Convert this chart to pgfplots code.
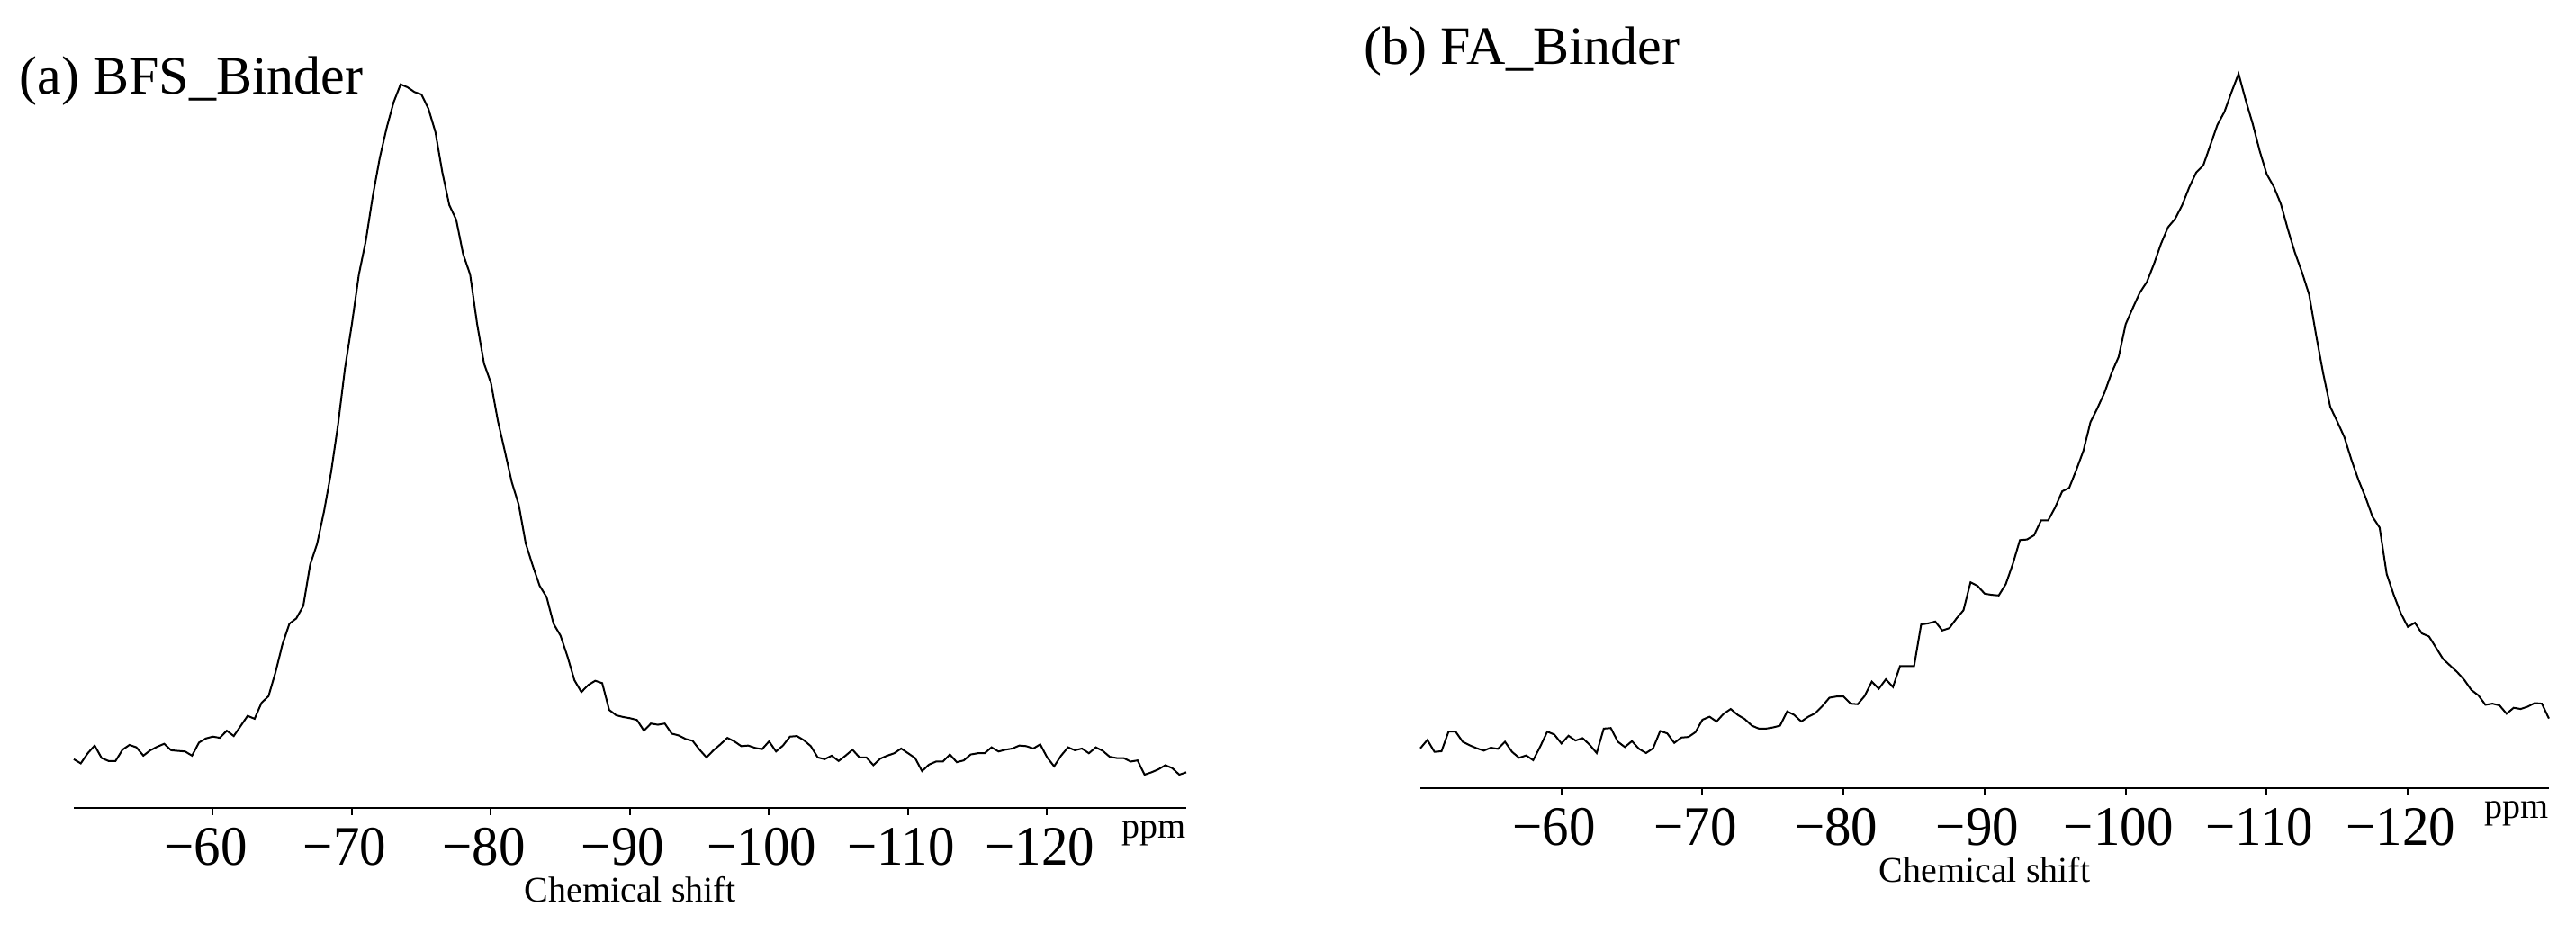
\documentclass[border=0pt]{standalone}
\usepackage{pgfplots}
\pgfplotsset{compat=1.18}
\usepackage{pgfplotstable}
\usepackage{fontspec}
\setmainfont{Liberation Serif}
\newfontfamily\tickfont[FakeStretch=0.95]{Liberation Serif}

\pgfplotstableread{
x y
-50 82
-50.5 75
-51 92
-51.5 105
-52 84
-52.5 79
-53 79
-53.5 98
-54 106
-54.5 102
-55 88
-55.5 97
-56 103
-56.5 108
-57 97
-57.5 96
-58 95
-58.5 88
-59 110
-59.5 117
-60 120
-60.5 118
-61 130
-61.5 121
-62 138
-62.5 155
-63 150
-63.5 177
-64 188
-64.5 228
-65 275
-65.5 310
-66 319
-66.5 340
-67 410
-67.5 445
-68 500
-68.5 565
-69 645
-69.5 740
-70 815
-70.5 898
-71 955
-71.5 1030
-72 1094
-72.5 1145
-73 1188
-73.5 1218
-74 1213
-74.5 1205
-75 1201
-75.5 1177
-76 1138
-76.5 1070
-77 1015
-77.5 990
-78 932
-78.5 898
-79 815
-79.5 748
-80 715
-80.5 651
-81 600
-81.5 548
-82 510
-82.5 445
-83 408
-83.5 374
-84 355
-84.5 310
-85 290
-85.5 255
-86 215
-86.5 195
-87 207
-87.5 214
-88 210
-88.5 165
-89 156
-89.5 153
-90 151
-90.5 148
-91 130
-91.5 142
-92 140
-92.5 142
-93 125
-93.5 122
-94 116
-94.5 113
-95 98
-95.5 85
-96 97
-96.5 107
-97 118
-97.5 112
-98 104
-98.5 105
-99 101
-99.5 99
-100 112
-100.5 95
-101 105
-101.5 120
-102 121
-102.5 114
-103 104
-103.5 85
-104 82
-104.5 88
-105 79
-105.5 88
-106 98
-106.5 85
-107 85
-107.5 72
-108 83
-108.5 88
-109 92
-109.5 100
-110 92
-110.5 84
-111 62
-111.5 73
-112 78
-112.5 78
-113 90
-113.5 77
-114 80
-114.5 90
-115 92
-115.5 92
-116 102
-116.5 95
-117 98
-117.5 100
-118 105
-118.5 104
-119 100
-119.5 107
-120 85
-120.5 70
-121 88
-121.5 102
-122 97
-122.5 100
-123 92
-123.5 102
-124 96
-124.5 86
-125 84
-125.5 84
-126 78
-126.5 80
-127 56
-127.5 60
-128 65
-128.5 72
-129 67
-129.5 56
-130 60
}\bfsdata

\pgfplotstableread{
x y
-50 67
-50.5 81
-51 61
-51.5 62
-52 95
-52.5 95
-53 78
-53.5 72
-54 67
-54.5 63
-55 68
-55.5 66
-56 78
-56.5 61
-57 51
-57.5 55
-58 47
-58.5 70
-59 95
-59.5 90
-60 75
-60.5 88
-61 80
-61.5 84
-62 73
-62.5 59
-63 100
-63.5 101
-64 78
-64.5 69
-65 79
-65.5 66
-66 59
-66.5 67
-67 96
-67.5 92
-68 76
-68.5 85
-69 86
-69.5 94
-70 115
-70.5 120
-71 112
-71.5 125
-72 133
-72.5 123
-73 116
-73.5 105
-74 100
-74.5 100
-75 102
-75.5 105
-76 129
-76.5 123
-77 112
-77.5 120
-78 126
-78.5 138
-79 152
-79.5 154
-80 154
-80.5 142
-81 141
-81.5 155
-82 179
-82.5 167
-83 183
-83.5 170
-84 205
-84.5 205
-85 205
-85.5 275
-86 277
-86.5 280
-87 265
-87.5 269
-88 285
-88.5 299
-89 346
-89.5 340
-90 327
-90.5 325
-91 324
-91.5 343
-92 377
-92.5 417
-93 418
-93.5 425
-94 450
-94.5 450
-95 472
-95.5 499
-96 505
-96.5 535
-97 567
-97.5 615
-98 639
-98.5 665
-99 698
-99.5 725
-100 780
-100.5 807
-101 833
-101.5 851
-102 881
-102.5 915
-103 943
-103.5 957
-104 980
-104.5 1010
-105 1035
-105.5 1047
-106 1081
-106.5 1115
-107 1137
-107.5 1170
-108 1201
-108.5 1157
-109 1117
-109.5 1071
-110 1032
-110.5 1011
-111 982
-111.5 939
-112 900
-112.5 867
-113 830
-113.5 761
-114 697
-114.5 641
-115 616
-115.5 590
-116 552
-116.5 518
-117 489
-117.5 456
-118 438
-118.5 360
-119 325
-119.5 294
-120 271
-120.5 278
-121 260
-121.5 255
-122 236
-122.5 217
-123 206
-123.5 195
-124 182
-124.5 165
-125 156
-125.5 140
-126 142
-126.5 139
-127 125
-127.5 135
-128 133
-128.5 137
-129 143
-129.5 142
-130 117
}\fadata

\pgfplotsset{
  nmr/.style={
    scale only axis, clip=false,
    x dir=reverse, xmin=-130, xmax=-50, ymin=0,
    axis x line=bottom, axis y line=none,
    x axis line style={-, line width=0.6pt},
    xtick={-60,-70,...,-120},
    xticklabels={−60,−70,−80,−90,−100,−110,−120},
    tick align=outside, major tick length=2pt,
    tick style={black, line width=0.5pt},
    xticklabel style={font=\tickfont\fontsize{15.5}{18}\selectfont, inner sep=0pt, anchor=north, yshift=-3.25pt, xshift=-2pt},
  }
}

\begin{document}
\begin{tikzpicture}[x=1pt,y=1pt]
\path[use as bounding box] (0,0) rectangle (715.5,259.25);

\begin{axis}[nmr, at={(20.5pt,34.75pt)}, anchor=south west,
  width=309pt, height=224.5pt, ymax=1360]
  \addplot[black, line width=0.5pt] table[x=x, y=y] {\bfsdata};
  \node[anchor=base east, inner sep=0pt, font=\fontsize{10}{12}\selectfont] at (rel axis cs:1,0) [yshift=-8.5pt] {ppm};
  \node[anchor=base, inner sep=0pt, font=\fontsize{10}{12}\selectfont] at (rel axis cs:0.5,0) [yshift=-26.25pt] {Chemical shift};
\end{axis}

\begin{axis}[nmr, at={(394.5pt,40.25pt)}, anchor=south west,
  width=313.5pt, height=219pt, ymax=1325]
  \addplot[black, line width=0.5pt] table[x=x, y=y] {\fadata};
  \node[anchor=base east, inner sep=0pt, font=\fontsize{10}{12}\selectfont] at (rel axis cs:1,0) [yshift=-8.5pt] {ppm};
  \node[anchor=base, inner sep=0pt, font=\fontsize{10}{12}\selectfont] at (rel axis cs:0.5,0) [yshift=-26.25pt] {Chemical shift};
\end{axis}

\node[anchor=base west, inner sep=0pt, font=\fontsize{15}{18}\selectfont] at (5.25,233) {(a) BFS\_Binder};
\node[anchor=base west, inner sep=0pt, font=\fontsize{15}{18}\selectfont] at (378.75,241.25) {(b) FA\_Binder};
\end{tikzpicture}
\end{document}
